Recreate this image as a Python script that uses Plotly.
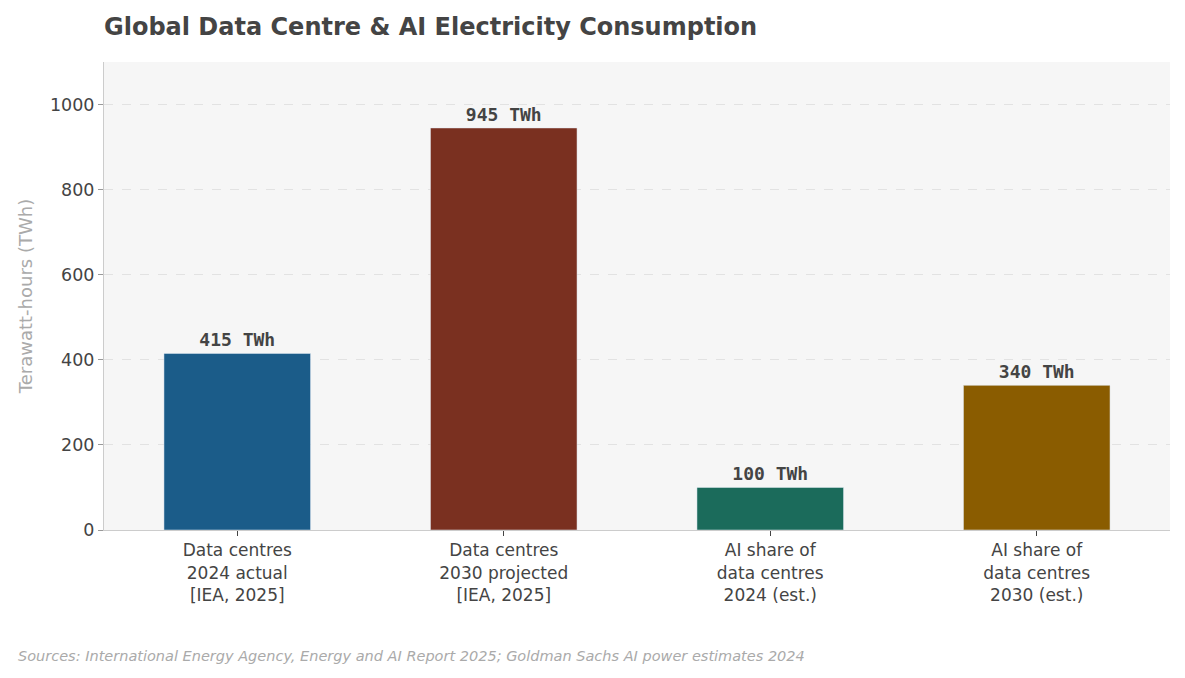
import plotly.graph_objects as go

categories = ["Data centres<br>2024 actual<br>[IEA, 2025]", "Data centres<br>2030 projected<br>[IEA, 2025]",
              "AI share of<br>data centres<br>2024 (est.)", "AI share of<br>data centres<br>2030 (est.)"]
values = [415, 945, 100, 340]
labels = ["415 TWh", "945 TWh", "100 TWh", "340 TWh"]
colors = ["#1b5c89", "#7a3020", "#1b6b5b", "#8a5c00"]

fig = go.Figure(go.Bar(x=categories, y=values, marker_color=colors, width=0.55,
                       text=labels, textposition="outside", cliponaxis=False,
                       textfont=dict(family="DejaVu Sans Mono", size=18, color="#444"),
                       texttemplate="<b>%{text}</b>"))
fig.update_layout(
    width=1185, height=678, paper_bgcolor="white", plot_bgcolor="#f6f6f6",
    font=dict(family="DejaVu Sans", color="#444"),
    margin=dict(l=96, r=23, t=54, b=156),
    title=dict(text="<b>Global Data Centre & AI Electricity Consumption</b>", x=0.081, xanchor="left",
               y=0.973, yanchor="middle", font=dict(size=24, color="#444")),
    showlegend=False,
    yaxis=dict(range=[0, 1100], tickvals=[0, 200, 400, 600, 800, 1000], gridcolor="#e2e2e2", griddash="dash",
               title=dict(text="Terawatt-hours (TWh)", font=dict(size=18, color="#aaa"), standoff=12),
               tickfont=dict(size=17.5), ticks="outside", ticklen=5, tickcolor="#999",
               showline=True, linecolor="#ccc", zeroline=False),
    xaxis=dict(tickfont=dict(size=17), ticks="outside", ticklen=5, tickcolor="#444",
               showline=True, linecolor="#ccc"),
    annotations=[dict(text="<i>Sources: International Energy Agency, Energy and AI Report 2025; Goldman Sachs AI power estimates 2024</i>",
                      xref="paper", yref="paper", x=-0.0826, y=-0.269, xanchor="left", yanchor="middle",
                      showarrow=False, font=dict(size=14.5, color="#aaa"))],
)
fig.write_html("out.html")
